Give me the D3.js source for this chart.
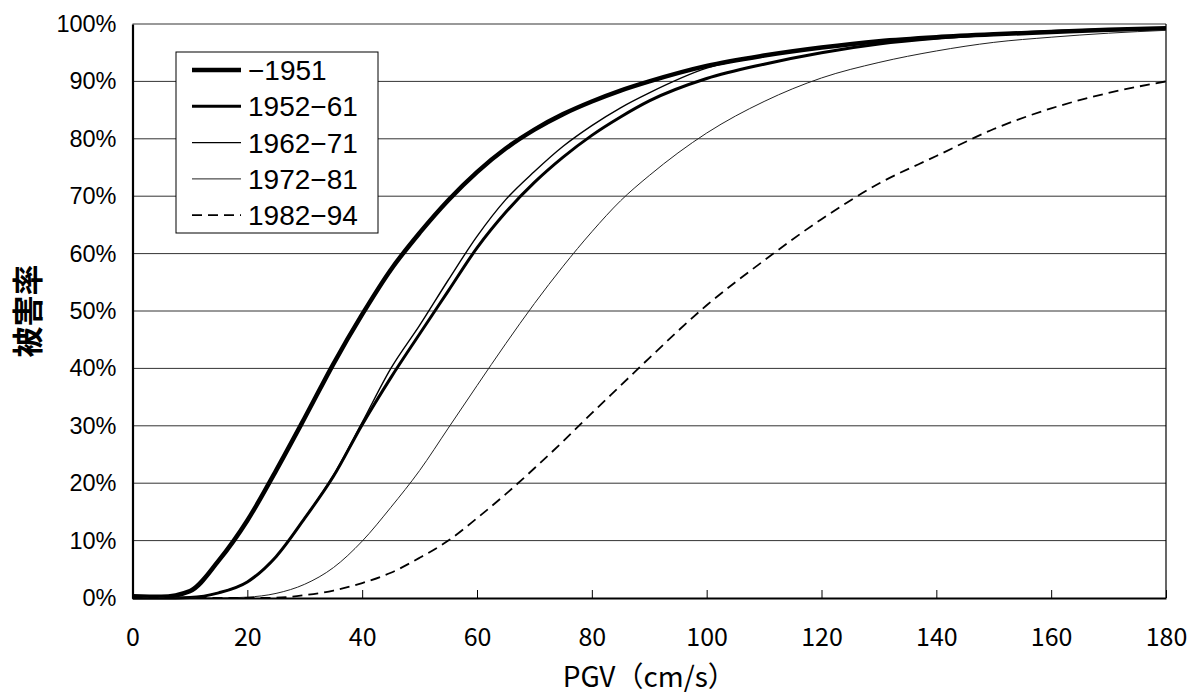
<!DOCTYPE html>
<html>
<head>
<meta charset="utf-8">
<script src="https://cdn.jsdelivr.net/npm/d3@7"></script>
<style>
  body { margin: 0; background: #fff; }
  svg { display: block; }
</style>
</head>
<body>
<div id="chart"></div>
<script>
// PGV values (cm/s) where the curves were read
const pgv = [0, 5, 10, 15, 20, 25, 30, 35, 40, 45, 50, 55, 60, 65, 70, 75, 80, 85, 90, 100, 110, 120, 130, 140, 150, 160, 170, 180];

// damage ratio (%) per period
const s1951   = [0.3, 0.2, 1.2, 6.5, 13.5, 22.2, 31.4, 40.8, 49.4, 57.2, 63.6, 69.3, 74.2, 78.3, 81.6, 84.3, 86.5, 88.4, 90.0, 92.7, 94.5, 95.9, 97.0, 97.7, 98.2, 98.6, 99.0, 99.25];
const s195261 = [0, 0, 0.1, 0.9, 2.8, 7.2, 13.9, 21.2, 30.2, 38.4, 46.0, 53.5, 61.0, 67.2, 72.4, 76.8, 80.6, 83.8, 86.6, 90.5, 93.0, 95.0, 96.5, 97.5, 98.2, 98.7, 99.0, 99.2];
const s196271 = [0, 0, 0.1, 0.9, 2.8, 7.2, 13.9, 21.4, 30.6, 40.0, 47.5, 55.4, 63.0, 69.4, 74.3, 78.7, 82.3, 85.4, 88.0, 92.3, 94.4, 95.8, 97.0, 97.7, 98.3, 98.7, 99.0, 99.2];
const s197281 = [0, 0, 0, 0, 0.15, 0.8, 2.4, 5.3, 9.9, 15.8, 22.2, 29.6, 37.0, 44.3, 51.3, 57.8, 63.8, 69.2, 73.6, 81.0, 86.5, 90.6, 93.3, 95.3, 96.8, 97.7, 98.4, 98.9];
const s198294 = [0, 0, 0, 0, 0, 0.05, 0.5, 1.3, 2.6, 4.4, 7.0, 10.0, 13.9, 18.1, 22.6, 27.3, 32.2, 37.0, 41.8, 51.0, 58.8, 66.0, 72.2, 77.0, 81.7, 85.3, 88.0, 90.0];

const seriesNames = ['\u22121951', '1952\u221261', '1962\u221271', '1972\u221281', '1982\u221294'];
const seriesValues = [s1951, s195261, s196271, s197281, s198294];

const xTicks = [0, 20, 40, 60, 80, 100, 120, 140, 160, 180];
const yTicks = [0, 10, 20, 30, 40, 50, 60, 70, 80, 90, 100];

const xTitle = 'PGV（cm/s）';
const yTitle = '被害率';

// line styles per series
const styles = [
  { width: 4.5, color: '#000', dash: null },
  { width: 3, color: '#000', dash: null },
  { width: 1.4, color: '#000', dash: null },
  { width: 1, color: '#222', dash: null },
  { width: 1.8, color: '#000', dash: '10,6' }
];

const W = 1193, H = 694;
const margin = { top: 24, right: 27, bottom: 96, left: 132.5 };
const width = W - margin.left - margin.right;
const height = H - margin.top - margin.bottom;

const jpFont = '"Noto Sans CJK JP", "Noto Sans", sans-serif';
const numFont = '"Liberation Sans", Arial, sans-serif';

const svg = d3.select('#chart')
  .append('svg')
  .attr('width', W)
  .attr('height', H);

const g = svg.append('g')
  .attr('transform', `translate(${margin.left},${margin.top})`);

const xScale = d3.scaleLinear().domain([0, 180]).range([0, width]);
const yScale = d3.scaleLinear().domain([0, 100]).range([height, 0]);

// horizontal gridlines
g.append('g')
  .selectAll('line')
  .data(yTicks.filter(d => d > 0))
  .enter()
  .append('line')
  .attr('x1', 0)
  .attr('x2', width)
  .attr('y1', d => yScale(d))
  .attr('y2', d => yScale(d))
  .attr('stroke', d => d === 100 ? '#777' : '#333')
  .attr('stroke-width', d => d === 100 ? 1.5 : 1);

// right border
g.append('line')
  .attr('x1', width).attr('x2', width)
  .attr('y1', 0).attr('y2', height)
  .attr('stroke', '#000')
  .attr('stroke-width', 1.2);

// curves
const line = d3.line()
  .x(d => xScale(d[0]))
  .y(d => yScale(d[1]))
  .curve(d3.curveMonotoneX);

seriesValues.forEach((vals, i) => {
  const pts = pgv.map((p, j) => [p, vals[j]]);
  g.append('path')
    .datum(pts)
    .attr('fill', 'none')
    .attr('stroke', styles[i].color)
    .attr('stroke-width', styles[i].width)
    .attr('stroke-dasharray', styles[i].dash)
    .attr('d', line);
});

// x axis
const xAxis = g.append('g')
  .attr('transform', `translate(0,${height})`)
  .call(d3.axisBottom(xScale).tickValues(xTicks).tickSizeInner(-8).tickSizeOuter(0).tickPadding(30));
xAxis.select('.domain').attr('stroke', '#000').attr('stroke-width', 2.2);
xAxis.selectAll('.tick line').attr('stroke', '#000').attr('stroke-width', 1);
xAxis.selectAll('.tick text')
  .attr('font-family', jpFont)
  .attr('font-size', 25)
  .attr('fill', '#000');

// y axis
const yAxis = g.append('g')
  .call(d3.axisLeft(yScale).tickValues(yTicks).tickSize(0).tickPadding(16).tickFormat(d => d + '%'));
yAxis.select('.domain').attr('stroke', '#000').attr('stroke-width', 2.2);
yAxis.selectAll('.tick text')
  .attr('font-family', numFont)
  .attr('font-size', 23.5)
  .attr('fill', '#000');

// axis titles
svg.append('text')
  .attr('x', margin.left + width / 2)
  .attr('y', 687)
  .attr('text-anchor', 'middle')
  .attr('font-family', jpFont)
  .attr('font-size', 28)
  .text(xTitle);

svg.append('text')
  .attr('text-anchor', 'middle')
  .attr('transform', `translate(39,${margin.top + height / 2}) rotate(-90)`)
  .attr('font-family', jpFont)
  .attr('font-size', 31)
  .attr('font-weight', 'bold')
  .text(yTitle);

// legend
const legend = svg.append('g').attr('transform', 'translate(176,52)');
legend.append('rect')
  .attr('width', 202)
  .attr('height', 181)
  .attr('fill', '#fff')
  .attr('stroke', '#000')
  .attr('stroke-width', 1);

seriesNames.forEach((name, i) => {
  const y = 18 + i * 36.3;
  legend.append('line')
    .attr('x1', 16).attr('x2', 65)
    .attr('y1', y).attr('y2', y)
    .attr('stroke', styles[i].color)
    .attr('stroke-width', styles[i].width)
    .attr('stroke-dasharray', styles[i].dash);
  legend.append('text')
    .attr('x', 72)
    .attr('y', y + 10)
    .attr('font-family', numFont)
    .attr('font-size', 28)
    .text(name);
});
</script>
</body>
</html>
